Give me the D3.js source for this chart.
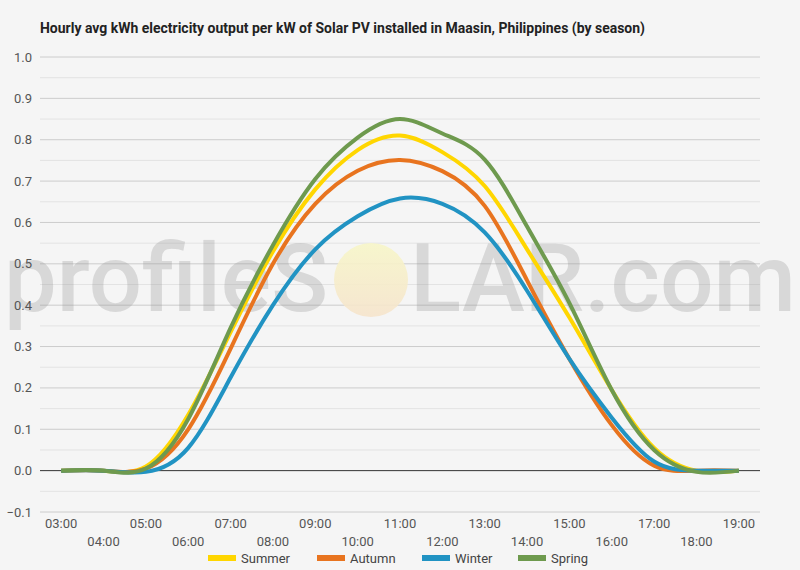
<!DOCTYPE html>
<html>
<head>
<meta charset="utf-8">
<script src="https://cdn.jsdelivr.net/npm/d3@7"></script>
<style>
  html, body { margin: 0; padding: 0; background: #f5f5f5; }
  svg { display: block; }
</style>
</head>
<body>
<svg id="chart" width="800" height="570"></svg>
<script>
const hours = ["03:00","04:00","05:00","06:00","07:00","08:00","09:00","10:00","11:00","12:00","13:00","14:00","15:00","16:00","17:00","18:00","19:00"];
const seriesNames = ["Summer","Autumn","Winter","Spring"];
const seriesColors = ["#ffd600","#e8741f","#2193c3","#6e9a4e"];
const summer = [0, 0, 0.01, 0.135, 0.335, 0.53, 0.68, 0.775, 0.81, 0.77, 0.688, 0.535, 0.37, 0.195, 0.055, 0, 0];
const autumn = [0, 0, 0.005, 0.10, 0.295, 0.50, 0.645, 0.725, 0.751, 0.724, 0.64, 0.46, 0.27, 0.11, 0.012, 0, 0];
const winter = [0, 0, -0.003, 0.055, 0.225, 0.40, 0.535, 0.615, 0.658, 0.645, 0.576, 0.435, 0.27, 0.128, 0.022, 0, 0];
const spring = [0, 0, 0.005, 0.125, 0.345, 0.545, 0.705, 0.805, 0.85, 0.815, 0.752, 0.59, 0.405, 0.195, 0.05, -0.003, 0];
const yTicks = [-0.1, 0, 0.1, 0.2, 0.3, 0.4, 0.5, 0.6, 0.7, 0.8, 0.9, 1.0];
const title = "Hourly avg kWh electricity output per kW of Solar PV installed in Maasin, Philippines (by season)";

const series = [summer, autumn, winter, spring];

const svg = d3.select("#chart");
const W = 800, H = 570;
const mLeft = 40, mRight = 760, mTop = 57, mBottom = 512;

svg.append("rect").attr("width", W).attr("height", H).attr("fill", "#f5f5f5");

const x = d3.scalePoint().domain(hours).range([mLeft, mRight]).padding(0.5);
const y = d3.scaleLinear().domain([-0.1, 1.0]).range([mBottom, mTop]);

// minor gridlines
const minor = d3.range(-0.05, 1.0, 0.1).map(v => +v.toFixed(2));
svg.append("g").selectAll("line").data(minor).join("line")
  .attr("x1", mLeft).attr("x2", mRight)
  .attr("y1", d => y(d)).attr("y2", d => y(d))
  .attr("stroke", "#e3e3e3").attr("stroke-width", 1);

// major gridlines
svg.append("g").selectAll("line").data(yTicks).join("line")
  .attr("x1", mLeft).attr("x2", mRight)
  .attr("y1", d => y(d)).attr("y2", d => y(d))
  .attr("stroke", d => d === 0 ? "#333" : "#cccccc").attr("stroke-width", 1);

// watermark
const wm = svg.append("g");
wm.append("text").attr("x", 4).attr("y", 311)
  .attr("font-family", "Roboto, sans-serif").attr("font-size", 95).attr("font-weight", 500)
  .attr("fill", "rgba(150,150,150,0.3)")
  .attr("textLength", 324).attr("lengthAdjust", "spacingAndGlyphs")
  .text("profileS");
const grad = svg.append("defs").append("linearGradient").attr("id", "sun")
  .attr("x1", 0).attr("y1", 0).attr("x2", 0).attr("y2", 1);
grad.append("stop").attr("offset", "0%").attr("stop-color", "#f7f6c8");
grad.append("stop").attr("offset", "100%").attr("stop-color", "#f6e4cc");
wm.append("circle").attr("cx", 371).attr("cy", 280).attr("r", 37).attr("fill", "url(#sun)").attr("opacity", 0.9);
wm.append("text").attr("x", 410).attr("y", 311)
  .attr("font-family", "Roboto, sans-serif").attr("font-size", 95).attr("font-weight", 500)
  .attr("fill", "rgba(150,150,150,0.3)")
  .attr("textLength", 386).attr("lengthAdjust", "spacingAndGlyphs")
  .text("LAR.com");

// y labels
svg.append("g").selectAll("text").data(yTicks).join("text")
  .attr("x", 32).attr("y", d => y(d)).attr("dy", "0.35em")
  .attr("text-anchor", "end")
  .attr("font-family", "Roboto, sans-serif").attr("font-size", 13).attr("fill", "#555")
  .text(d => d3.format(".1f")(d));

// x labels staggered
svg.append("g").selectAll("text").data(hours).join("text")
  .attr("x", d => x(d)).attr("y", (d, i) => i % 2 === 0 ? 523 : 541).attr("dy", "0.35em")
  .attr("text-anchor", "middle")
  .attr("font-family", "Roboto, sans-serif").attr("font-size", 13).attr("fill", "#555")
  .text(d => d);

// lines
const line = d3.line().x((d, i) => x(hours[i])).y(d => y(d)).curve(d3.curveNatural);
svg.append("g").selectAll("path").data(series).join("path")
  .attr("d", d => line(d))
  .attr("fill", "none")
  .attr("stroke", (d, i) => seriesColors[i])
  .attr("stroke-width", 4)
  .attr("stroke-linejoin", "round").attr("stroke-linecap", "butt");

// title
svg.append("text").attr("x", 40).attr("y", 33)
  .attr("font-family", "Roboto, sans-serif").attr("font-size", 14).attr("font-weight", 700)
  .attr("fill", "#222")
  .attr("textLength", 605).attr("lengthAdjust", "spacingAndGlyphs")
  .text(title);

// legend
const legendX = [208, 317, 422, 518];
const lg = svg.append("g").selectAll("g").data(seriesNames).join("g")
  .attr("transform", (d, i) => `translate(${legendX[i]},558)`);
lg.append("rect").attr("x", 0).attr("y", -3).attr("width", 28).attr("height", 6)
  .attr("fill", (d, i) => seriesColors[i]);
lg.append("text").attr("x", 33).attr("y", 0).attr("dy", "0.35em")
  .attr("font-family", "Roboto, sans-serif").attr("font-size", 13).attr("fill", "#444")
  .text(d => d);
</script>
</body>
</html>
